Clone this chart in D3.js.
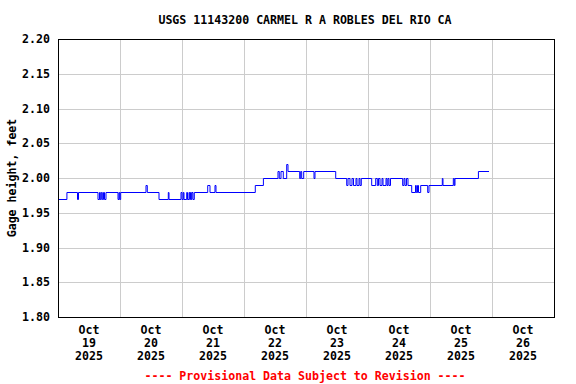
<!DOCTYPE html>
<html>
<head>
<meta charset="utf-8">
<script src="https://cdn.jsdelivr.net/npm/d3@7"></script>
<style>
body { margin: 0; background: #fff; }
text { font-family: "DejaVu Sans Mono", monospace; font-weight: bold; font-size: 11.6px; }
</style>
</head>
<body>
<div id="chart"></div>
<script>
var title = "USGS 11143200 CARMEL R A ROBLES DEL RIO CA";
var yLabel = "Gage height, feet";
var footer = "---- Provisional Data Subject to Revision ----";

// hours since Oct 19 2025 00:00, and the gage height from that time on
var stepHours = [0, 3.45, 7.55, 7.94, 15.48, 16.06, 16.37, 16.76, 17.15, 17.61, 18.0, 18.58,
    23.23, 23.61, 23.88, 24.27, 34.06, 34.57, 39.10, 42.70, 42.97, 47.61, 48.0, 48.50, 48.77,
    49.82, 50.13, 50.71, 50.98, 51.29, 51.6, 51.87, 52.26, 52.76, 57.95, 58.84, 60.77, 61.16,
    76.37, 79.51, 85.16, 85.66, 86.32, 87.21, 88.53, 89.03, 93.56, 93.95, 94.34, 95.11,
    99.10, 99.48, 107.50, 111.76, 112.26, 113.03, 113.81, 114.39, 115.35, 115.74, 116.52,
    116.90, 117.41, 121.43, 122.98, 123.60, 124.06, 124.65, 125.42, 125.81, 126.97, 127.35,
    127.74, 128.13, 128.71, 133.42, 133.94, 134.32, 134.90, 135.48, 136.92, 138.39, 138.70,
    139.16, 139.55, 140.40, 143.11, 143.61, 148.76, 149.03, 153.03, 153.41, 153.68, 162.74, 166.84];
var stepValues = [1.97, 1.98, 1.97, 1.98, 1.97, 1.98, 1.97, 1.98, 1.97, 1.98, 1.97, 1.98,
    1.97, 1.98, 1.97, 1.98, 1.99, 1.98, 1.97, 1.98, 1.97, 1.98, 1.97, 1.98, 1.97,
    1.98, 1.97, 1.98, 1.97, 1.98, 1.97, 1.98, 1.97, 1.98, 1.99, 1.98, 1.99, 1.98,
    1.99, 2.00, 2.01, 2.00, 2.01, 2.00, 2.02, 2.01, 2.00, 2.01, 2.00, 2.01,
    2.00, 2.01, 2.00, 1.99, 2.00, 1.99, 2.00, 1.99, 2.00, 1.99, 2.00,
    1.99, 2.00, 1.99, 2.00, 1.99, 2.00, 1.99, 2.00, 1.99, 2.00, 1.99,
    2.00, 1.99, 2.00, 1.99, 2.00, 1.99, 2.00, 1.99, 1.98, 1.99, 1.98,
    1.99, 1.98, 1.99, 1.98, 1.99, 2.00, 1.99, 2.00, 1.99, 2.00, 2.01, 2.01];

var yTicks = [1.80, 1.85, 1.90, 1.95, 2.00, 2.05, 2.10, 2.15, 2.20];
var dayLabels = ["19", "20", "21", "22", "23", "24", "25", "26"];

var margin = {top: 39, right: 22, bottom: 67, left: 58},
    width = 576 - margin.left - margin.right,
    height = 384 - margin.top - margin.bottom;

var start = Date.UTC(2025, 9, 19);
var data = stepHours.map(function (h, i) {
    return {t: new Date(start + h * 3600000), v: stepValues[i]};
});

var x = d3.scaleUtc()
    .domain([new Date(start), new Date(start + 8 * 86400000)])
    .range([0, width]);
var y = d3.scaleLinear().domain([1.80, 2.20]).range([height, 0]);

var svg = d3.select("#chart").append("svg")
    .attr("width", 576)
    .attr("height", 384);

svg.append("text")
    .attr("x", 305).attr("y", 24)
    .attr("text-anchor", "middle")
    .text(title);

var g = svg.append("g")
    .attr("transform", "translate(" + margin.left + "," + margin.top + ")");

// grid
var days = d3.range(1, 8).map(function (i) { return new Date(start + i * 86400000); });
g.selectAll(".vgrid").data(days).enter().append("line")
    .attr("x1", function (d) { return Math.round(x(d)) + 0.5; })
    .attr("x2", function (d) { return Math.round(x(d)) + 0.5; })
    .attr("y1", 0).attr("y2", height)
    .attr("stroke", "#cccccc");
g.selectAll(".hgrid").data(yTicks.slice(1, -1)).enter().append("line")
    .attr("x1", 0).attr("x2", width)
    .attr("y1", function (d) { return Math.round(y(d)) + 0.5; })
    .attr("y2", function (d) { return Math.round(y(d)) + 0.5; })
    .attr("stroke", "#cccccc");

// data line
var line = d3.line()
    .x(function (d) { return x(d.t); })
    .y(function (d) { return Math.round(y(d.v)) + 0.5; })
    .curve(d3.curveStepAfter);
g.append("path")
    .datum(data)
    .attr("fill", "none")
    .attr("stroke", "#0000ff")
    .attr("stroke-width", 1)
    .attr("d", line);

// frame
g.append("rect")
    .attr("x", 0.5).attr("y", 0.5)
    .attr("width", width).attr("height", height)
    .attr("fill", "none")
    .attr("stroke", "#000");

// y axis labels
g.selectAll(".ylab").data(yTicks).enter().append("text")
    .attr("x", -8)
    .attr("y", function (d) { return y(d) + 4; })
    .attr("text-anchor", "end")
    .text(function (d) { return d.toFixed(2); });

svg.append("text")
    .attr("transform", "translate(16," + (margin.top + height / 2) + ") rotate(-90)")
    .attr("text-anchor", "middle")
    .text(yLabel);

// x axis labels at noon of each day
var xl = g.selectAll(".xlab").data(dayLabels).enter().append("text")
    .attr("text-anchor", "middle")
    .attr("transform", function (d, i) {
        return "translate(" + x(new Date(start + (i + 0.5) * 86400000)) + "," + (height + 17) + ")";
    });
xl.append("tspan").attr("x", 0).attr("y", 0).text("Oct");
xl.append("tspan").attr("x", 0).attr("y", 13).text(function (d) { return d; });
xl.append("tspan").attr("x", 0).attr("y", 26).text("2025");

svg.append("text")
    .attr("x", 305).attr("y", 380)
    .attr("text-anchor", "middle")
    .attr("fill", "#ff0000")
    .text(footer);
</script>
</body>
</html>
